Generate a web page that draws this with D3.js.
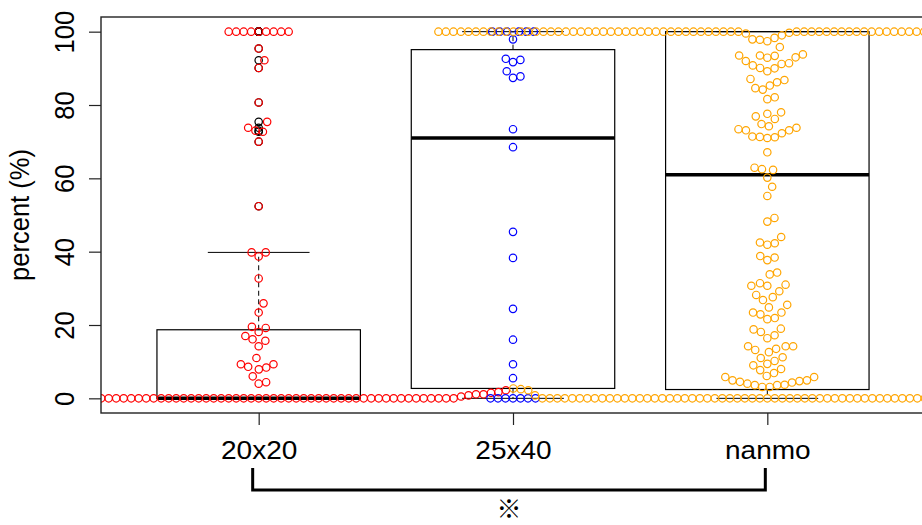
<!DOCTYPE html>
<html>
<head>
<meta charset="utf-8">
<title>percent by group</title>
<style>
  body { margin: 0; background: #fff; }
  svg text { font-family: "Liberation Sans", Arial, sans-serif; fill: #000; }
</style>
</head>
<body>
<script src="https://d3js.org/d3.v7.min.js"></script>
<script>
  let groups = ["20x20", "25x40", "nanmo"];
  let colors = ["red", "blue", "orange"];
  let yTicks = [0, 20, 40, 60, 80, 100];

  // box stats
  let q1 = [0, 2.7, 2.4];
  let med = [0, 71, 61];
  let q3 = [18.7, 95.1, 100];
  let whiskerLo = [0, 0, 0];
  let whiskerHi = [39.8, 100, 100];

  // how many points sit exactly at 0 and at 100 in each group
  let zeroCount = [53, 7, 61];
  let hundredCount = [9, 6, 82];

  // the remaining points
  let vals20x20 = [0.5, 0.5, 0.8, 0.8, 1.1, 1.1, 1.1, 1.1, 1.5, 1.5, 1.7, 1.7, 2.2, 2.2,
    4.0, 4.4, 6.0, 7.9, 8.4, 8.6, 9.3, 9.3, 11.0, 14.2, 15.7, 16.1, 17.0, 18.1, 19.2, 19.5,
    23.4, 25.9, 32.7, 38.7, 39.8, 39.8,
    52.4, 70.0, 72.7, 73.0, 73.8, 75.4, 80.7, 90.1, 92.2, 95.4];
  let vals25x40 = [5.5, 9.3, 16.0, 24.4, 38.3, 45.4, 68.5, 73.4, 87.4, 87.8, 89.2, 91.7,
    92.3, 92.6, 97.9];
  let valsNanmo = [0.8, 0.8, 2.2, 2.2, 2.5, 2.5, 2.7, 2.7, 3.1, 3.1,
    3.6, 3.6, 3.7, 4.0, 4.3, 4.5, 4.7, 4.9, 4.9, 5.8, 5.8, 6.1, 6.9,
    7.7, 8.0, 9.0, 9.4, 10.2, 11.0, 11.2,
    12.6, 13.2, 13.5, 14.2, 14.2, 14.2,
    16.4, 17.2, 18.1, 18.8, 19.0,
    21.6, 21.9, 22.9, 23.4, 23.4, 24.8, 25.5,
    26.8, 27.6, 28.2, 29.2, 30.7, 30.7, 31.0, 31.4, 33.8, 34.3,
    37.7, 38.4, 38.8, 41.9, 42.3, 42.5, 44.0, 48.2, 49.2, 55.2, 57.7,
    60.2, 62.3, 62.5, 62.9, 67.1,
    71.0, 71.2, 71.3, 71.4, 72.3, 73.1, 73.1, 73.4, 73.8, 74.2,
    74.8, 76.2, 76.9, 77.6, 78.0, 81.6, 82.1,
    84.2, 84.6, 85.3, 86.2, 86.8, 87.1,
    89.2, 90.0, 90.1, 90.8, 91.2, 91.4, 92.0, 92.9, 93.0, 93.4, 93.5, 93.5, 93.8,
    95.8, 97.4, 97.8, 97.9, 98.3, 99.0, 99.5, 99.7];
  let otherVals = [vals20x20, vals25x40, valsNanmo];

  let width = 922, height = 525;
  let pL = 101, pR = 925, pT = 17, pB = 413;
  let dotR = 3.7;
  let xSize = 7.5, ySize = 12;   // swarm spacing in px

  let svg = d3.select("body").append("svg")
    .attr("width", width).attr("height", height);

  let x = d3.scalePoint().domain(groups).range([pL, pR]).padding(0.62);
  let y = d3.scaleLinear().domain([-4, 104]).range([pB, pT]);
  let boxW = x.step() * 0.8;

  svg.append("clipPath").attr("id", "plotclip")
    .append("rect").attr("x", pL).attr("y", pT)
    .attr("width", pR - pL).attr("height", pB - pT);

  // boxes
  groups.forEach(function(g, i) {
    let cx = x(g);
    let gBox = svg.append("g").attr("stroke", "#000").attr("fill", "none");
    gBox.append("line").attr("x1", cx).attr("x2", cx)
      .attr("y1", y(q3[i])).attr("y2", y(whiskerHi[i]))
      .attr("stroke-dasharray", "5,3.5");
    gBox.append("line").attr("x1", cx).attr("x2", cx)
      .attr("y1", y(q1[i])).attr("y2", y(whiskerLo[i]))
      .attr("stroke-dasharray", "5,3.5");
    [whiskerLo[i], whiskerHi[i]].forEach(function(v) {
      gBox.append("line").attr("x1", cx - boxW / 4).attr("x2", cx + boxW / 4)
        .attr("y1", y(v)).attr("y2", y(v));
    });
    gBox.append("rect").attr("x", cx - boxW / 2).attr("width", boxW)
      .attr("y", y(q3[i])).attr("height", y(q1[i]) - y(q3[i]))
      .attr("stroke-width", 1.2);
    gBox.append("line").attr("x1", cx - boxW / 2).attr("x2", cx + boxW / 2)
      .attr("y1", y(med[i])).attr("y2", y(med[i]))
      .attr("stroke-width", 3.5);
  });

  function allValues(i) {
    let zeros = d3.range(zeroCount[i]).map(function() { return 0; });
    let hundreds = d3.range(hundredCount[i]).map(function() { return 100; });
    return zeros.concat(otherVals[i], hundreds);
  }

  // boxplot outliers (black, at the centre)
  groups.forEach(function(g, i) {
    let outl = allValues(i).filter(function(v) { return v > whiskerHi[i] || v < whiskerLo[i]; });
    svg.append("g").attr("clip-path", "url(#plotclip)")
      .selectAll("circle").data(outl).enter().append("circle")
      .attr("cx", x(g)).attr("cy", function(d) { return y(d); })
      .attr("r", dotR).attr("fill", "none").attr("stroke", "#000").attr("stroke-width", 1.2);
  });

  // beeswarm "swarm" layout, ascending priority
  function swarm(vals) {
    let order = d3.range(vals.length).sort(function(a, b) { return (vals[a] - vals[b]) || (a - b); });
    let placed = [];
    let out = new Array(vals.length);
    order.forEach(function(i) {
      let yi = y(vals[i]) / ySize;
      let near = placed.filter(function(p) { return Math.abs(yi - p.y) < 1; });
      let best = 0;
      if (near.length) {
        let cands = [0];
        near.forEach(function(p) { cands.push(p.x + Math.sqrt(1 - (yi - p.y) * (yi - p.y))); });
        near.forEach(function(p) { cands.push(p.x - Math.sqrt(1 - (yi - p.y) * (yi - p.y))); });
        let bestAbs = Infinity;
        cands.forEach(function(c) {
          let bad = near.some(function(p) { return (yi - p.y) * (yi - p.y) + (c - p.x) * (c - p.x) < 0.999; });
          if (!bad && Math.abs(c) < bestAbs) { bestAbs = Math.abs(c); best = c; }
        });
      }
      placed.push({ y: yi, x: best });
      out[i] = best * xSize;
    });
    return out;
  }

  groups.forEach(function(g, i) {
    let vals = allValues(i);
    let offs = swarm(vals);
    let pts = vals.map(function(v, k) { return { v: v, dx: offs[k] }; });
    svg.append("g").attr("clip-path", "url(#plotclip)")
      .selectAll("circle").data(pts).enter().append("circle")
      .attr("cx", function(d) { return x(g) + d.dx; })
      .attr("cy", function(d) { return y(d.v); })
      .attr("r", dotR).attr("fill", "none")
      .attr("stroke", colors[i]).attr("stroke-width", 1.2);
  });

  // frame
  svg.append("rect").attr("x", pL).attr("y", pT)
    .attr("width", pR - pL).attr("height", pB - pT)
    .attr("fill", "none").attr("stroke", "#222").attr("stroke-width", 1.4);

  // y axis
  let yAxis = d3.axisLeft(y).tickValues(yTicks).tickSize(12);
  let gy = svg.append("g").attr("transform", "translate(" + pL + ",0)").call(yAxis);
  gy.select(".domain").remove();
  gy.selectAll(".tick line").attr("stroke", "#222").attr("stroke-width", 1.2);
  gy.selectAll(".tick text")
    .attr("x", 0).attr("dy", 0).attr("text-anchor", "middle")
    .attr("font-size", 25.5)
    .attr("transform", "translate(-27,0) scale(1.1,1) rotate(-90)");

  // x axis
  let xAxis = d3.axisBottom(x).tickSize(12);
  let gx = svg.append("g").attr("transform", "translate(0," + pB + ")").call(xAxis);
  gx.select(".domain").remove();
  gx.selectAll(".tick line").attr("stroke", "#222").attr("stroke-width", 1.2);
  gx.selectAll(".tick text")
    .attr("y", 46).attr("dy", 0).attr("font-size", 25.5)
    .attr("transform", "scale(1.1,1)");

  svg.append("text")
    .attr("transform", "translate(29," + ((pT + pB) / 2) + ") scale(1.1,1) rotate(-90)")
    .attr("text-anchor", "middle").attr("font-size", 25.5)
    .text("percent (%)");

  // significance bracket between 20x20 and nanmo
  let bx1 = x(groups[0]) - 6, bx2 = x(groups[2]) - 2;
  svg.append("path")
    .attr("d", "M" + bx1 + ",468V490H" + bx2 + "V468")
    .attr("fill", "none").attr("stroke", "#000").attr("stroke-width", 3);
  svg.append("text")
    .attr("x", (bx1 + bx2) / 2).attr("y", 518)
    .attr("text-anchor", "middle").attr("font-size", 25)
    .style("font-family", "'Noto Sans CJK JP', sans-serif")
    .text("※");
</script>
</body>
</html>
